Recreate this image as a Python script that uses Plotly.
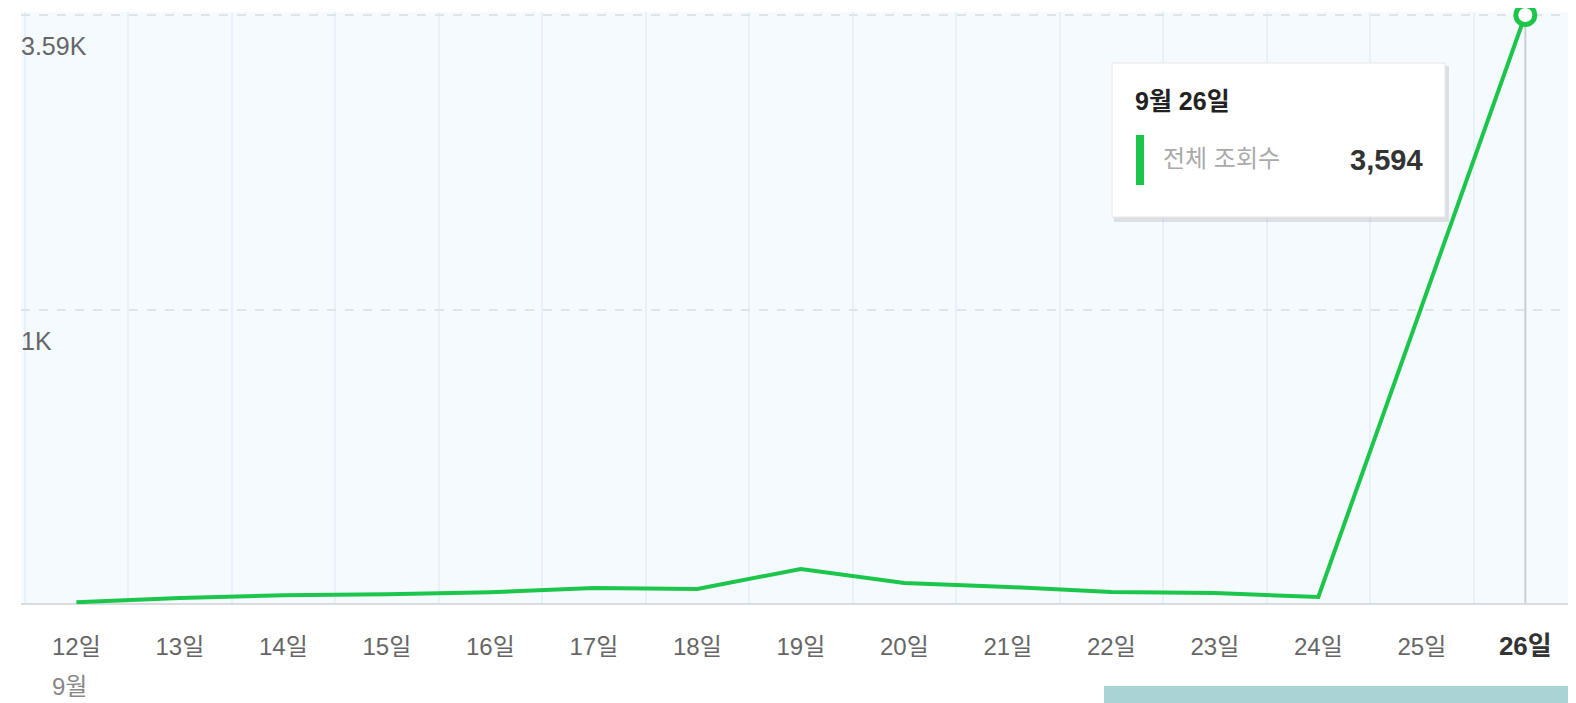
import plotly.graph_objects as go

# ---- data ----
days = [12, 13, 14, 15, 16, 17, 18, 19, 20, 21, 22, 23, 24, 25, 26]
views = [6, 20, 30, 33, 40, 54, 51, 119, 71, 58, 41, 37, 24, 1026, 3594]
day_labels = [f"{d}일" for d in days]
y_tick_values = [1000, 3594]
y_tick_labels = ["1K", "3.59K"]
month_label = "9월"
tip_title = "9월 26일"
tip_series = "전체 조회수"
tip_value = "3,594"

# piecewise scale used by the chart: 0..1K occupies the lower half, 1K..max the upper half
BREAK = 1000
TOP = max(views)


def scale(v):
    if v <= BREAK:
        return v / BREAK
    return 1 + (v - BREAK) / (TOP - BREAK)


ys = [scale(v) for v in views]

FONT = "Liberation Sans, Arial, Noto Sans CJK KR, sans-serif"
GREEN = "#1bc64a"

OFF = 8  # default page body margin
W, H = 1576 - OFF, 703 - OFF
L, R, T, B = 21 - OFF, 1, 12 - OFF, 99
pw, ph = W - L - R, H - T - B


def px(x):  # page pixel -> paper
    return (x - OFF - L) / pw


def py(y):
    return (H - B - (y - OFF)) / ph


ticktext = [f"<b><span style='color:#333;font-size:26px'>{t}</span></b>" if i == len(day_labels) - 1 else t
            for i, t in enumerate(day_labels)]

fig = go.Figure()
fig.add_trace(go.Scatter(
    x=days, y=ys, mode="lines",
    line=dict(color=GREEN, width=4),
    hoverinfo="skip", showlegend=False,
))
fig.add_trace(go.Scatter(
    x=[days[-1]], y=[ys[-1]], mode="markers",
    marker=dict(size=19, color="white", line=dict(color=GREEN, width=5)),
    cliponaxis=False, hoverinfo="skip", showlegend=False,
))

shapes = []
# hover crosshair at last day
shapes.append(dict(type="line", xref="x", yref="y", x0=days[-1], x1=days[-1], y0=0, y1=ys[-1],
                   line=dict(color="#c9cdd1", width=2), layer="below"))
# tooltip shadow and box
shapes.append(dict(type="rect", xref="paper", yref="paper",
                   x0=px(1114), x1=px(1449), y0=py(222), y1=py(66),
                   fillcolor="rgba(0,0,0,0.10)", line=dict(width=0), layer="above"))
shapes.append(dict(type="rect", xref="paper", yref="paper",
                   x0=px(1112), x1=px(1445), y0=py(217), y1=py(63),
                   fillcolor="white", line=dict(color="#e6e6e6", width=1), layer="above"))
shapes.append(dict(type="rect", xref="paper", yref="paper",
                   x0=px(1136), x1=px(1144), y0=py(185), y1=py(135),
                   fillcolor=GREEN, line=dict(width=0), layer="above"))
# teal strip at the bottom right
shapes.append(dict(type="rect", xref="paper", yref="paper",
                   x0=px(1104), x1=px(1572), y0=py(703), y1=py(686),
                   fillcolor="#aad3d6", line=dict(width=0), layer="above"))

annotations = []
for v, t in zip(y_tick_values, y_tick_labels):
    annotations.append(dict(x=0, xref="paper", y=scale(v), yref="y", text=t, showarrow=False,
                            xanchor="left", yanchor="middle", yshift=-31, xshift=-2,
                            font=dict(family=FONT, size=25, color="#666")))
annotations.append(dict(x=days[0], xref="x", y=py(686), yref="paper", text=month_label,
                        showarrow=False, xanchor="left", yanchor="middle", xshift=-26,
                        font=dict(family=FONT, size=24, color="#888")))
annotations.append(dict(x=px(1133), xref="paper", y=py(101), yref="paper", text=f"<b>{tip_title}</b>",
                        showarrow=False, xanchor="left", yanchor="middle",
                        font=dict(family=FONT, size=25, color="#222")))
annotations.append(dict(x=px(1161), xref="paper", y=py(158), yref="paper", text=tip_series,
                        showarrow=False, xanchor="left", yanchor="middle",
                        font=dict(family=FONT, size=24, color="#aaa")))
annotations.append(dict(x=px(1425), xref="paper", y=py(160), yref="paper", text=f"<b>{tip_value}</b>",
                        showarrow=False, xanchor="right", yanchor="middle",
                        font=dict(family=FONT, size=29, color="#333")))

fig.update_layout(
    width=W, height=H,
    margin=dict(l=L, r=R, t=T, b=B, autoexpand=False),
    paper_bgcolor="white", plot_bgcolor="#f5fafe",
    shapes=shapes, annotations=annotations,
    xaxis=dict(
        range=[11.465, 26.48], tickvals=days, ticktext=ticktext,
        showgrid=False, zeroline=False, showline=False, ticks="",
        ticklabelstandoff=26, automargin=False,
        tickfont=dict(family=FONT, size=24, color="#666"),
        minor=dict(tick0=12.5, dtick=1, showgrid=True, gridcolor="#e6f1fc", gridwidth=2, ticks=""),
    ),
    yaxis=dict(
        range=[0, 2.0102], tickvals=[0, 1, 2], showticklabels=False, automargin=False,
        showgrid=True, gridcolor="#dfe4e8", gridwidth=2, griddash="dash",
        zeroline=True, zerolinecolor="#d9dcdf", zerolinewidth=2,
    ),
)

fig.write_html("out.html")
